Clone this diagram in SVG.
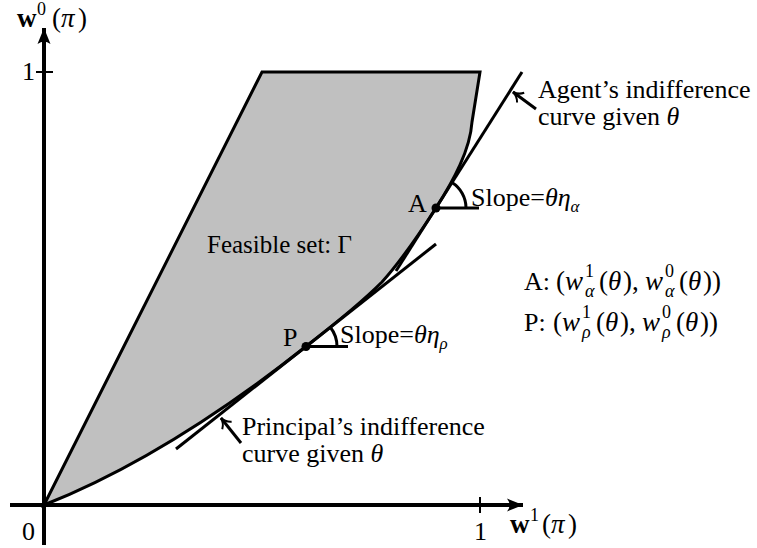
<svg xmlns="http://www.w3.org/2000/svg" width="757" height="548" viewBox="0 0 757 548">
<style>
text{font-family:"Liberation Serif","Times New Roman",serif;fill:#000}
.t{font-size:26px}
.m{font-size:27px}
.i{font-style:italic}
.b{font-weight:bold}
.s{font-size:18px}
.ln{fill:none;stroke:#000;stroke-width:3;stroke-linecap:butt}
.ax{fill:none;stroke:#000;stroke-width:4}
.tk{fill:none;stroke:#000;stroke-width:2}
</style>
<defs>
<marker id="axh" markerUnits="userSpaceOnUse" markerWidth="20" markerHeight="16" refX="16" refY="7" orient="auto" viewBox="0 0 20 14">
<path d="M16,7 L0,0.5 Q5,7 0,13.5 Z" fill="#000"/>
</marker>
<marker id="lbh" markerUnits="userSpaceOnUse" markerWidth="14" markerHeight="14" refX="11" refY="7" orient="auto" viewBox="0 0 14 14">
<path d="M1.5,1 Q5,6 11,7 Q5,8 1.5,13" fill="none" stroke="#000" stroke-width="2"/>
</marker>
</defs>
<g id="feasible-set">
<path d="M44,505 L262,72 L480,72 L472,122 C470,150 454,179.6 436,208 C420,233 400,262 382,282 C366,298 340,320 306,346.5 C206,425.3 120,475 44,505 Z" fill="#c0c0c0" stroke="#000" stroke-width="3" stroke-linejoin="miter"/>
</g>
<g id="axes">
<line x1="44" y1="545" x2="44" y2="28" class="ax" marker-end="url(#axh)"/>
<line x1="10" y1="505" x2="523" y2="505" class="ax" marker-end="url(#axh)"/>
<line x1="36" y1="72" x2="53" y2="72" class="tk"/>
<line x1="480" y1="497" x2="480" y2="513" class="tk"/>
</g>
<g id="connectors">
<line id="agent-curve" x1="522" y1="72" x2="396" y2="271" class="ln"/>
<line id="principal-curve" x1="176" y1="449" x2="436" y2="244" class="ln"/>
<line x1="436" y1="208" x2="479" y2="208" class="ln"/>
<path d="M466,208 A30,30 0 0 0 452,182.6" class="ln" stroke-width="2.5"/>
<line x1="306" y1="346.5" x2="348" y2="346.5" class="ln"/>
<path d="M337,346.5 A31,31 0 0 0 330.3,327.3" class="ln" stroke-width="2.5"/>
<line x1="536" y1="109" x2="513" y2="92" class="ln" stroke-width="2.5" marker-end="url(#lbh)"/>
<line x1="241" y1="443" x2="221" y2="418" class="ln" stroke-width="2.5" marker-end="url(#lbh)"/>
</g>
<g id="point-A">
<circle cx="436" cy="208" r="4.5" fill="#000"/>
<text class="t" x="408" y="212">A</text>
<text class="t" x="471" y="206">Slope=<tspan class="i">θη</tspan><tspan class="i" font-size="17" dy="6">α</tspan></text>
</g>
<g id="point-P">
<circle cx="306" cy="346.5" r="4.5" fill="#000"/>
<text class="t" x="283" y="346">P</text>
<text class="t" x="340" y="343">Slope=<tspan class="i">θη</tspan><tspan class="i" font-size="17" dy="6">ρ</tspan></text>
</g>
<g id="labels">
<text font-size="25" x="207" y="253">Feasible set: Γ</text>
<text class="t" x="538" y="98">Agent’s indifference</text>
<text class="t" x="538" y="125">curve given <tspan class="i">θ</tspan></text>
<text class="t" x="242" y="435">Principal’s indifference</text>
<text class="t" x="242" y="462">curve given <tspan class="i">θ</tspan></text>
<text class="t" x="22" y="80">1</text>
<text class="t" x="22" y="540">0</text>
<text class="t" x="474" y="540">1</text>
<text class="m"><tspan class="b" x="17" y="27">w</tspan><tspan class="s" x="37" y="15">0</tspan><tspan x="52" y="27">(</tspan><tspan class="i" x="61" y="27">π</tspan><tspan x="78" y="27">)</tspan></text>
<text class="m"><tspan class="b" x="510" y="533">w</tspan><tspan class="s" x="530" y="521">1</tspan><tspan x="542" y="533">(</tspan><tspan class="i" x="551" y="533">π</tspan><tspan x="568" y="533">)</tspan></text>
<text class="m"><tspan class="t" x="524" y="290">A:</tspan><tspan x="556" y="290">(</tspan><tspan class="i" x="565" y="290">w</tspan><tspan class="s" x="585" y="277">1</tspan><tspan class="s i" x="585" y="297">α</tspan><tspan x="599" y="290">(</tspan><tspan class="i" x="608" y="290">θ</tspan><tspan x="623" y="290">),</tspan><tspan class="i" x="645" y="290">w</tspan><tspan class="s" x="665" y="277">0</tspan><tspan class="s i" x="665" y="297">α</tspan><tspan x="679" y="290">(</tspan><tspan class="i" x="688" y="290">θ</tspan><tspan x="703" y="290">))</tspan></text>
<text class="m"><tspan class="t" x="524" y="331">P:</tspan><tspan x="553" y="331">(</tspan><tspan class="i" x="562" y="331">w</tspan><tspan class="s" x="582" y="318">1</tspan><tspan class="s i" x="582" y="338">ρ</tspan><tspan x="596" y="331">(</tspan><tspan class="i" x="605" y="331">θ</tspan><tspan x="620" y="331">),</tspan><tspan class="i" x="642" y="331">w</tspan><tspan class="s" x="662" y="318">0</tspan><tspan class="s i" x="662" y="338">ρ</tspan><tspan x="676" y="331">(</tspan><tspan class="i" x="685" y="331">θ</tspan><tspan x="700" y="331">))</tspan></text>
</g>
</svg>
